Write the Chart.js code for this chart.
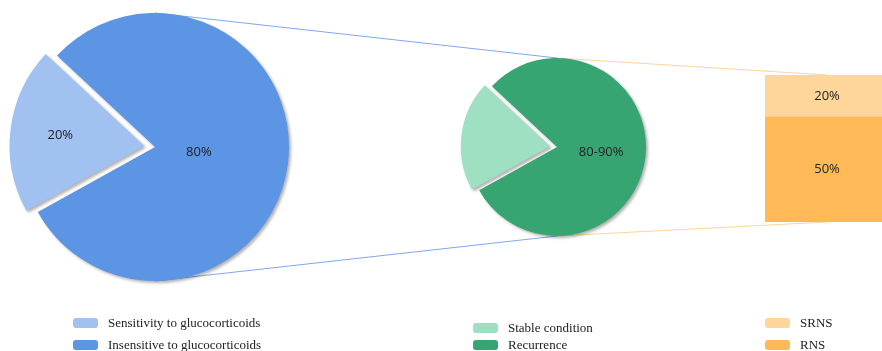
<!DOCTYPE html>
<html>
<head>
<meta charset="utf-8">
<script src="https://cdn.jsdelivr.net/npm/chart.js@4"></script>
<style>
    html, body { margin: 0; padding: 0; width: 882px; height: 351px; overflow: hidden; background: #fff; }
    .box { position: absolute; }
    #links { position: absolute; left: 0; top: 0; pointer-events: none; }
    .legend { position: absolute; font-family: "Liberation Serif", "Times New Roman", serif; font-size: 13px; color: #222; }
    .legend div { display: flex; align-items: center; height: 22px; }
    #legend-sub div { height: 17px; }
    .legend span.sw { display: inline-block; width: 25px; height: 10px; border-radius: 3px; margin-right: 10px; }
</style>
</head>
<body>
<canvas id="links" width="882" height="351"></canvas>
<div class="box" style="left:0;top:0;width:310px;height:294px"><canvas id="pie-main"></canvas></div>
<div class="box" style="left:457px;top:47px;width:200px;height:200px"><canvas id="pie-sub"></canvas></div>
<div class="box" style="left:765px;top:75px;width:124px;height:147px"><canvas id="bar-sub"></canvas></div>

<div class="legend" id="legend-main" style="left:73px;top:312px"></div>
<div class="legend" id="legend-sub" style="left:473px;top:319px"></div>
<div class="legend" id="legend-bar" style="left:765px;top:312px"></div>

<script>
// glucocorticoid response
const mainLabels = ["Sensitivity to glucocorticoids", "Insensitive to glucocorticoids"];
const mainValues = [20, 80];
const mainText = ["20%", "80%"];
const mainColors = ["#A1C1F0", "#5C95E3"];

// outcome of sensitive group
const subLabels = ["Stable condition", "Recurrence"];
const subValues = [20, 80];
const subText = ["", "80-90%"];
const subColors = ["#9FE0C3", "#36A572"];

// recurrence split (bottom to top: RNS, SRNS)
const barLabels = ["RNS", "SRNS"];
const barValues = [50, 20];
const barText = ["50%", "20%"];
const barColors = ["#FFB957", "#FED59B"];

const labelFont = '13px "Open Sans", "Liberation Sans", sans-serif';

// soft grey drop shadow like the reference
const shadowPlugin = {
    id: 'shadow',
    beforeDatasetsDraw(chart) {
        const c = chart.ctx;
        c.save();
        c.shadowColor = 'rgba(0,0,0,0.3)';
        c.shadowBlur = 3;
        c.shadowOffsetX = 2;
        c.shadowOffsetY = 2;
    },
    afterDatasetsDraw(chart) {
        chart.ctx.restore();
    }
};

// text inside each slice
const labelPlugin = {
    id: 'segLabels',
    afterDatasetsDraw(chart, args, opts) {
        const c = chart.ctx;
        const meta = chart.getDatasetMeta(0);
        c.save();
        c.font = labelFont;
        c.fillStyle = '#222';
        c.textAlign = 'center';
        c.textBaseline = 'middle';
        meta.data.forEach((el, i) => {
            const txt = opts.text[i];
            if (!txt) return;
            const a = (el.startAngle + el.endAngle) / 2;
            // arc draws its offset at a quarter of the option value
            const off = (el.options.offset || 0) / 4;
            const r = el.outerRadius * opts.frac[i] + off;
            c.fillText(txt, el.x + Math.cos(a) * r, el.y + Math.sin(a) * r);
        });
        c.restore();
    }
};

function pieChart(id, labels, values, colors, radius, offsets, text, frac) {
    return new Chart(document.getElementById(id), {
        type: 'pie',
        data: {
            labels: labels,
            datasets: [{
                data: values,
                backgroundColor: colors,
                borderWidth: 0,
                offset: offsets
            }]
        },
        options: {
            responsive: true,
            maintainAspectRatio: false,
            animation: false,
            radius: radius,
            rotation: 241,
            layout: { padding: 0 },
            plugins: {
                legend: { display: false },
                tooltip: { enabled: false },
                segLabels: { text: text, frac: frac }
            }
        },
        plugins: [shadowPlugin, labelPlugin]
    });
}

const mainChart = pieChart('pie-main', mainLabels, mainValues, mainColors, 134, [44, 0], mainText, [0.63, 0.33]);
const subChart = pieChart('pie-sub', subLabels, subValues, subColors, 89, [28, 0], subText, [0.6, 0.5]);

const barChart = new Chart(document.getElementById('bar-sub'), {
    type: 'bar',
    data: {
        labels: [''],
        datasets: barLabels.map((l, i) => ({
            label: l,
            data: [barValues[i]],
            backgroundColor: barColors[i],
            borderWidth: 0,
            barPercentage: 1,
            categoryPercentage: 1
        }))
    },
    options: {
        responsive: true,
        maintainAspectRatio: false,
        animation: false,
        layout: { padding: 0 },
        scales: {
            x: { stacked: true, display: false },
            y: { stacked: true, display: false, min: 0, max: barValues.reduce((a, b) => a + b, 0) }
        },
        plugins: {
            legend: { display: false },
            tooltip: { enabled: false }
        }
    },
    plugins: [{
        id: 'barLabels',
        afterDatasetsDraw(chart) {
            const c = chart.ctx;
            c.save();
            c.font = labelFont;
            c.fillStyle = '#222';
            c.textAlign = 'center';
            c.textBaseline = 'middle';
            chart.data.datasets.forEach((ds, i) => {
                const el = chart.getDatasetMeta(i).data[0];
                c.fillText(barText[i], el.x, (el.y + el.base) / 2);
            });
            c.restore();
        }
    }]
});

// connector lines, taken from the chart elements
function pieTopBottom(chart) {
    const el = chart.getDatasetMeta(0).data[1];
    const box = chart.canvas.parentNode;
    const x = box.offsetLeft + el.x, y = box.offsetTop + el.y;
    return { top: [x, y - el.outerRadius], bottom: [x, y + el.outerRadius] };
}

function drawLinks() {
    const c = document.getElementById('links').getContext('2d');
    const a = pieTopBottom(mainChart);
    const b = pieTopBottom(subChart);
    const box = barChart.canvas.parentNode;
    const top = barChart.getDatasetMeta(1).data[0];
    const bot = barChart.getDatasetMeta(0).data[0];
    const bx = box.offsetLeft + top.x;
    const btop = [bx, box.offsetTop + top.y];
    const bbot = [bx, box.offsetTop + bot.base];

    c.lineWidth = 1;
    c.strokeStyle = '#7EA9EC';
    [[a.top, b.top], [a.bottom, b.bottom]].forEach(([p, q]) => {
        c.beginPath(); c.moveTo(p[0], p[1]); c.lineTo(q[0], q[1]); c.stroke();
    });
    c.strokeStyle = '#FED59B';
    [[b.top, btop], [b.bottom, bbot]].forEach(([p, q]) => {
        c.beginPath(); c.moveTo(p[0], p[1]); c.lineTo(q[0], q[1]); c.stroke();
    });
}
drawLinks();

// legends
function buildLegend(id, labels, colors) {
    const el = document.getElementById(id);
    labels.forEach((l, i) => {
        el.innerHTML += `<div><span class="sw" style="background:${colors[i]}"></span>${l}</div>`;
    });
}
buildLegend('legend-main', mainLabels, mainColors);
buildLegend('legend-sub', subLabels, subColors);
buildLegend('legend-bar', barLabels.slice().reverse(), barColors.slice().reverse());
</script>
</body>
</html>
